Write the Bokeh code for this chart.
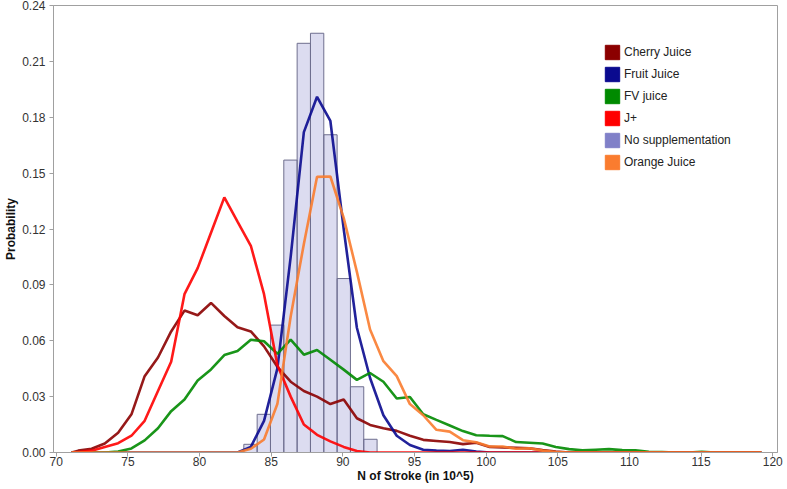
from bokeh.plotting import figure
from bokeh.models import Range1d, FixedTicker, NumeralTickFormatter, Legend, LegendItem
from bokeh.embed import file_html
from bokeh.resources import INLINE

# histogram: No supplementation (bin edges + probability per bin)
hist_edges = [83.09, 84.02, 84.95, 85.88, 86.81, 87.74, 88.67, 89.60, 90.53, 91.46, 92.39]
hist_prob = [0.0044, 0.0205, 0.0684, 0.157, 0.2197, 0.2251, 0.1706, 0.0934, 0.0353, 0.0071]

# frequency polygons
cherry_x = [71.08, 71.54, 72.47, 73.39, 74.32, 75.25, 76.17, 77.10, 78.02, 78.95, 79.87, 80.80, 81.73, 82.65,
            83.58, 84.50, 85.43, 86.36, 87.28, 88.20, 89.13, 90.06, 90.98, 91.90, 92.83, 93.76, 94.68, 95.61,
            96.53, 97.46, 98.38, 99.31, 100.24, 101.16, 102.09, 103.01, 103.94, 104.86, 105.79, 119.2]
cherry_y = [0, 0.001, 0.002, 0.0048, 0.0106, 0.0205, 0.041, 0.051, 0.065, 0.0762, 0.0737, 0.0803, 0.0733, 0.0673,
            0.065, 0.057, 0.046, 0.038, 0.033, 0.030, 0.026, 0.0285, 0.0184, 0.0148, 0.013, 0.0116, 0.009, 0.0068,
            0.0062, 0.0056, 0.0045, 0.0052, 0.003, 0.0027, 0.0025, 0.0022, 0.0013, 0.0005, 0, 0]

fruit_x = [71.08, 82.65, 83.58, 84.50, 85.43, 86.36, 87.28, 88.20, 89.13, 90.06, 90.98, 91.90, 92.83, 93.76,
           94.68, 95.61, 96.53, 97.46, 98.38, 99.31, 100.24, 119.2]
fruit_y = [0, 0, 0.003, 0.017, 0.045, 0.105, 0.172, 0.191, 0.178, 0.12, 0.067, 0.04, 0.02, 0.009,
           0.004, 0.0015, 0.001, 0.0008, 0.0015, 0.0005, 0, 0]

fv_x = [71.08, 73.39, 74.32, 75.25, 76.17, 77.10, 78.02, 78.95, 79.87, 80.80, 81.73, 82.65, 83.58, 84.50,
        85.43, 86.36, 87.28, 88.20, 89.13, 90.06, 90.98, 91.90, 92.83, 93.76, 94.68, 95.61, 96.53, 97.46,
        98.38, 99.31, 100.24, 101.16, 102.09, 103.01, 103.94, 104.86, 105.79, 106.72, 107.64, 108.57, 109.49,
        110.42, 111.35, 112.27, 113.20, 114.12, 115.05, 115.97, 119.2]
fv_y = [0, 0, 0.0005, 0.0022, 0.0065, 0.013, 0.0222, 0.0285, 0.0387, 0.0446, 0.0523, 0.0545, 0.0605, 0.0597,
        0.053, 0.0606, 0.0525, 0.055, 0.0498, 0.0445, 0.039, 0.0427, 0.038, 0.029, 0.0298, 0.0205, 0.0175, 0.0145,
        0.0115, 0.0093, 0.009, 0.0088, 0.0056, 0.0052, 0.0048, 0.003, 0.0018, 0.0012, 0.0015, 0.0018, 0.0013,
        0.0012, 0.0004, 0.0002, 0, 0, 0.0004, 0, 0]

jplus_x = [71.08, 71.54, 72.47, 73.39, 74.32, 75.25, 76.17, 77.10, 78.02, 78.95, 79.87, 80.80, 81.73, 82.65,
           83.58, 84.50, 85.43, 86.36, 87.28, 88.20, 89.13, 90.06, 90.98, 91.90, 119.2]
jplus_y = [0, 0.0003, 0.001, 0.003, 0.005, 0.009, 0.017, 0.033, 0.0487, 0.085, 0.099, 0.118, 0.137, 0.124,
           0.111, 0.085, 0.047, 0.03, 0.015, 0.0095, 0.006, 0.003, 0.0008, 0, 0]

orange_x = [71.08, 82.65, 83.58, 84.50, 85.43, 86.36, 87.28, 88.20, 89.13, 90.06, 90.98, 91.90, 92.83, 93.76,
            94.68, 95.61, 96.53, 97.46, 98.38, 99.31, 100.24, 101.16, 102.09, 103.01, 103.94, 104.86, 105.79, 119.2]
orange_y = [0, 0, 0.002, 0.007, 0.026, 0.073, 0.112, 0.148, 0.1482, 0.126, 0.097, 0.066, 0.049, 0.041,
            0.026, 0.020, 0.0122, 0.0112, 0.0066, 0.0055, 0.0032, 0.0032, 0.002, 0.0023, 0.001, 0.0003, 0, 0]

x_ticks = [70, 75, 80, 85, 90, 95, 100, 105, 110, 115, 120]
y_ticks = [0, 0.03, 0.06, 0.09, 0.12, 0.15, 0.18, 0.21, 0.24]

names = ["Cherry Juice", "Fruit Juice", "FV juice", "J+", "No supplementation", "Orange Juice"]
colors = ["#8b0000", "#0a0a8f", "#008a00", "#ff0000", "#8080c8", "#fa7c2f"]

FONT = "Liberation Sans"

# the page template has no body margin, so the figure fills the window
p = figure(width=787, height=489, output_backend="svg", toolbar_location=None,
           x_range=Range1d(69.81, 120.33), y_range=Range1d(0, 0.24),
           min_border_left=53, min_border_right=10, min_border_top=5, min_border_bottom=37)

# bars
p.quad(left=hist_edges[:-1], right=hist_edges[1:], top=hist_prob, bottom=0,
       fill_color="#8080c8", fill_alpha=0.28, line_color="#6e6e8e", line_width=1)

series = [(cherry_x, cherry_y, colors[0]),
          (fruit_x, fruit_y, colors[1]),
          (fv_x, fv_y, colors[2]),
          (jplus_x, jplus_y, colors[3]),
          (orange_x, orange_y, colors[5])]
for xs, ys, c in series:
    p.line(xs, ys, line_color=c, line_width=2.6, line_alpha=0.9)

# legend with square swatches (renderers that draw nothing)
nan = float("nan")
items = []
for n, c in zip(names, colors):
    r = p.quad(left=[nan], right=[nan], top=[nan], bottom=[nan], fill_color=c, line_color=c)
    items.append(LegendItem(label=n, renderers=[r]))

legend = Legend(items=items, location=(546, 277), border_line_alpha=0, background_fill_alpha=0,
                label_text_font=FONT, label_text_font_size="12px", label_text_color="#222222",
                glyph_width=18, glyph_height=18, label_height=18, spacing=4, padding=4,
                label_standoff=3, margin=0)
p.add_layout(legend)

p.xaxis.ticker = FixedTicker(ticks=x_ticks)
p.yaxis.ticker = FixedTicker(ticks=y_ticks)
p.yaxis.formatter = NumeralTickFormatter(format="0.00")
p.xaxis.axis_label = "N of Stroke (in 10^5)"
p.yaxis.axis_label = "Probability"

for ax in (p.xaxis, p.yaxis):
    ax.axis_label_text_font = FONT
    ax.axis_label_text_font_style = "bold"
    ax.axis_label_text_font_size = "12px"
    ax.axis_label_text_color = "#111111"
    ax.major_label_text_font = FONT
    ax.major_label_text_font_size = "12px"
    ax.major_label_text_color = "#333333"
    ax.axis_line_color = "#a0a0a0"
    ax.major_tick_line_color = "#a0a0a0"
    ax.major_tick_out = 4
    ax.major_tick_in = 0
    ax.minor_tick_line_color = None

p.xaxis.major_label_standoff = 0
p.xaxis.axis_label_standoff = 0
p.yaxis.major_label_standoff = 4
p.yaxis.axis_label_standoff = 1

p.grid.visible = False
p.outline_line_color = "#a0a0a0"
p.background_fill_color = "white"
p.border_fill_color = "white"

open("out.html", "w").write(file_html(p, INLINE))
